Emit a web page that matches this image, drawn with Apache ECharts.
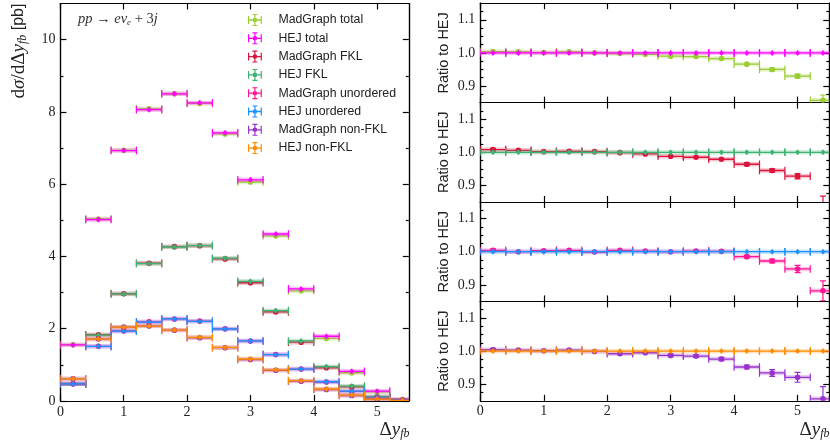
<!DOCTYPE html>
<html><head><meta charset="utf-8">
<script src="https://cdn.jsdelivr.net/npm/echarts@6/dist/echarts.min.js"></script>
<style>html,body{margin:0;padding:0;background:#fff}#c{width:830px;height:448px}</style>
</head><body><div id="c"></div>
<script>
// ---- data ----
const binEdges = [0, 0.4, 0.8, 1.2, 1.6, 2.0, 2.4, 2.8, 3.2, 3.6, 4.0, 4.4, 4.8, 5.2, 5.6];
const xTicks = [0, 1, 2, 3, 4, 5];
const yTicksMain = [0, 2, 4, 6, 8, 10];
const yMinorMain = [1, 3, 5, 7, 9];
const yTicksRatio = [0.9, 1.0, 1.1];
const yMinorRatio = [0.875, 0.925, 0.95, 0.975, 1.025, 1.05, 1.075, 1.125];

const seriesNames = ['MadGraph total', 'HEJ total', 'MadGraph FKL', 'HEJ FKL',
  'MadGraph unordered', 'HEJ unordered', 'MadGraph non-FKL', 'HEJ non-FKL'];
const seriesColors = ['#9acd32', '#ff00ff', '#dc143c', '#3cb371', '#ff1493', '#1e90ff', '#9932cc', '#ff8c00'];

const mgTotal   = [1.556, 5.035, 6.937, 8.084, 8.50, 8.234, 7.390, 6.059, 4.569, 3.047, 1.729, 0.779, 0.251, 0.034];
const hejTotal  = [1.55, 5.02, 6.93, 8.06, 8.50, 8.25, 7.42, 6.12, 4.62, 3.10, 1.79, 0.82, 0.27, 0.04];
const mgFkl     = [0.474, 1.831, 2.966, 3.811, 4.269, 4.296, 3.930, 3.270, 2.463, 1.625, 0.916, 0.387, 0.111, 0.017];
const hejFkl    = [0.47, 1.82, 2.96, 3.80, 4.26, 4.30, 3.95, 3.31, 2.50, 1.66, 0.95, 0.41, 0.12, 0.02];
const mgUnord   = [0.472, 1.51, 1.936, 2.189, 2.268, 2.209, 1.994, 1.66, 1.283, 0.881, 0.522, 0.262, 0.076, 0.013];
const hejUnord  = [0.47, 1.51, 1.93, 2.18, 2.27, 2.20, 1.99, 1.66, 1.28, 0.88, 0.53, 0.27, 0.08, 0.015];
const mgNonFkl  = [0.612, 1.715, 2.042, 2.076, 1.958, 1.746, 1.473, 1.145, 0.847, 0.547, 0.314, 0.149, 0.046, 0.009];
const hejNonFkl = [0.61, 1.71, 2.04, 2.07, 1.96, 1.76, 1.48, 1.16, 0.86, 0.56, 0.33, 0.16, 0.05, 0.01];

const ratioMgTotal  = [1.004, 1.003, 1.001, 1.003, 1.000, 0.998, 0.996, 0.990, 0.989, 0.983, 0.966, 0.950, 0.930, 0.857];
const ratioErrTotal = [0.003, 0.002, 0.002, 0.002, 0.002, 0.002, 0.002, 0.002, 0.003, 0.003, 0.003, 0.004, 0.006, 0.016];
const ratioMgFkl    = [1.008, 1.006, 1.002, 1.003, 1.002, 0.999, 0.995, 0.988, 0.985, 0.979, 0.964, 0.945, 0.928, 0.830];
const ratioErrFkl   = [0.004, 0.003, 0.002, 0.002, 0.002, 0.002, 0.002, 0.003, 0.003, 0.003, 0.004, 0.005, 0.008, 0.038];
const ratioMgUnord  = [1.004, 1.000, 1.003, 1.004, 0.999, 1.004, 1.002, 1.000, 1.002, 1.001, 0.985, 0.972, 0.948, 0.882];
const ratioErrUnord = [0.004, 0.003, 0.003, 0.003, 0.003, 0.003, 0.003, 0.003, 0.003, 0.003, 0.004, 0.006, 0.011, 0.030];
const ratioMgNonFkl = [1.004, 1.003, 1.001, 1.003, 0.999, 0.992, 0.995, 0.987, 0.985, 0.976, 0.952, 0.934, 0.921, 0.856];
const ratioErrNonFkl= [0.004, 0.003, 0.003, 0.003, 0.003, 0.003, 0.003, 0.004, 0.004, 0.005, 0.006, 0.010, 0.015, 0.037];
const ratioHej      = [1, 1, 1, 1, 1, 1, 1, 1, 1, 1, 1, 1, 1, 1];

// ---- helpers ----
function toData(vals, errs) {
  return vals.map((v, i) => [binEdges[i], binEdges[i + 1], v, errs ? errs[i] : 0]);
}
function makeRender(isMG) {
  return function (params, api) {
    const lo = api.value(0), hi = api.value(1), y = api.value(2), e = api.value(3);
    const c = api.visual('color');
    const p1 = api.coord([lo, y]), p2 = api.coord([hi, y]);
    const xc = (p1[0] + p2[0]) / 2, yc = p1[1];
    const yu = api.coord([lo, y + e])[1], yd = api.coord([lo, y - e])[1];
    const cs = params.coordSys;
    const ch = [];
    ch.push({ type: 'rect', shape: { x: p1[0], y: yc - 2.2, width: p2[0] - p1[0], height: 4.4 }, style: { fill: c, opacity: 0.25 } });
    ch.push({ type: 'line', shape: { x1: p1[0], y1: yc, x2: p2[0], y2: yc }, style: { stroke: c, lineWidth: 1.3 } });
    ch.push({ type: 'line', shape: { x1: p1[0], y1: yc - 3.8, x2: p1[0], y2: yc + 3.8 }, style: { stroke: c, lineWidth: 1.2 } });
    ch.push({ type: 'line', shape: { x1: p2[0], y1: yc - 3.8, x2: p2[0], y2: yc + 3.8 }, style: { stroke: c, lineWidth: 1.2 } });
    if (yd - yu > 2) {
      ch.push({ type: 'line', shape: { x1: xc, y1: yu, x2: xc, y2: yd }, style: { stroke: c, lineWidth: 1.2 } });
      ch.push({ type: 'line', shape: { x1: xc - 3, y1: yu, x2: xc + 3, y2: yu }, style: { stroke: c, lineWidth: 1.2 } });
      ch.push({ type: 'line', shape: { x1: xc - 3, y1: yd, x2: xc + 3, y2: yd }, style: { stroke: c, lineWidth: 1.2 } });
    }
    if (isMG) {
      ch.push({ type: 'circle', shape: { cx: xc, cy: yc, r: 2.8 }, style: { fill: c } });
    } else {
      ch.push({ type: 'polygon', shape: { points: [[xc, yc - 3], [xc + 2.4, yc], [xc, yc + 3], [xc - 2.4, yc]] }, style: { fill: c } });
    }
    return { type: 'group', children: ch,
      clipPath: { type: 'rect', shape: { x: cs.x, y: cs.y, width: cs.width, height: cs.height } } };
  };
}
function ser(idx, vals, errs, xi, yi) {
  return {
    type: 'custom', name: seriesNames[idx], xAxisIndex: xi, yAxisIndex: yi,
    itemStyle: { color: seriesColors[idx] },
    renderItem: makeRender(idx % 2 === 0),
    encode: { x: [0, 1], y: 2 },
    data: toData(vals, errs), silent: true, animation: false
  };
}

const AX = { color: '#000', width: 1.2 };
const serif = 'Liberation Serif';
function xAxesFor(gi, showLabels) {
  const base = { type: 'value', gridIndex: gi, min: 0, max: 5.5, splitLine: { show: false } };
  return [
    Object.assign({}, base, { position: 'bottom',
      axisLine: { show: true, onZero: false, lineStyle: AX },
      axisTick: { show: true, inside: true, length: 6, customValues: xTicks, lineStyle: AX },
      axisLabel: { show: showLabels, customValues: xTicks, margin: 4, fontFamily: serif, fontSize: 14, color: '#222' } }),
    Object.assign({}, base, { position: 'top',
      axisLine: { show: true, onZero: false, lineStyle: AX },
      axisTick: { show: true, inside: true, length: 6, customValues: xTicks, lineStyle: AX },
      axisLabel: { show: false } })
  ];
}
function yAxesFor(gi, min, max, major, minor) {
  const base = { type: 'value', gridIndex: gi, min: min, max: max, splitLine: { show: false } };
  const mk = (pos, vals, len, labels) => Object.assign({}, base, { position: pos,
    axisLine: { show: true, onZero: false, lineStyle: AX },
    axisTick: { show: true, inside: true, length: len, customValues: vals, lineStyle: AX },
    axisLabel: labels ? { show: true, customValues: vals, margin: 5, fontFamily: serif, fontSize: 14, color: '#222',
      formatter: v => (Math.abs(v - Math.round(v)) < 1e-9 && max > 2) ? String(Math.round(v)) : v.toFixed(1) } : { show: false } });
  return [mk('left', major, 6, true), mk('left', minor, 3, false), mk('right', major, 6, false), mk('right', minor, 3, false)];
}

// ---- layout ----
const mainGrid = { left: 60.4, top: 3.5, width: 348.4, height: 397.4 };
const rTop = [3.2, 102.6, 202.0, 301.4], rH = 99.4;
const grids = [mainGrid].concat(rTop.map(t => ({ left: 480.3, top: t, width: 349, height: rH })));

let xAxis = [], yAxis = [];
xAxis = xAxis.concat(xAxesFor(0, true));
yAxis = yAxis.concat(yAxesFor(0, 0, 11, yTicksMain, yMinorMain));
for (let p = 0; p < 4; p++) {
  xAxis = xAxis.concat(xAxesFor(p + 1, p === 3));
  yAxis = yAxis.concat(yAxesFor(p + 1, 0.85, 1.15, yTicksRatio, yMinorRatio));
}
// axis indices: grid g -> x bottom = 2g, y left major = 4g
const series = [
  ser(0, mgTotal, null, 0, 0), ser(1, hejTotal, null, 0, 0),
  ser(2, mgFkl, null, 0, 0), ser(3, hejFkl, null, 0, 0),
  ser(4, mgUnord, null, 0, 0), ser(5, hejUnord, null, 0, 0),
  ser(6, mgNonFkl, null, 0, 0), ser(7, hejNonFkl, null, 0, 0),
  ser(0, ratioMgTotal, ratioErrTotal, 2, 4), ser(1, ratioHej, null, 2, 4),
  ser(2, ratioMgFkl, ratioErrFkl, 4, 8), ser(3, ratioHej, null, 4, 8),
  ser(4, ratioMgUnord, ratioErrUnord, 6, 12), ser(5, ratioHej, null, 6, 12),
  ser(6, ratioMgNonFkl, ratioErrNonFkl, 8, 16), ser(7, ratioHej, null, 8, 16)
];

const iconPath = 'path://M0,5.8H15V7.2H0Z M0,2.2H1.3V10.8H0Z M13.7,2.2H15V10.8H13.7Z M6.85,0H8.15V13H6.85Z M4.8,0H10.2V1.2H4.8Z M4.8,11.8H10.2V13H4.8Z M5,6.5A2.5,2.5,0,1,1,10,6.5A2.5,2.5,0,1,1,5,6.5Z';

const sub = { fontFamily: serif, fontStyle: 'italic', fontSize: 12, lineHeight: 12, verticalAlign: 'bottom' };
const graphics = [
  { type: 'text', x: 19, y: 51, rotation: Math.PI / 2,
    style: { text: '{m|d}{i|σ}{m|/d}{m|Δ}{i|y}{s|fb}{t| [pb]}', align: 'center', verticalAlign: 'middle',
      rich: { m: { fontFamily: serif, fontSize: 19, lineHeight: 19, fill: '#222' },
              i: { fontFamily: serif, fontStyle: 'italic', fontSize: 19, lineHeight: 19, fill: '#222' },
              s: Object.assign({ fill: '#222' }, sub),
              t: { fontFamily: 'Liberation Sans', fontSize: 16, lineHeight: 19, fill: '#222' } } } },
  { type: 'text', x: 78, y: 19.5,
    style: { text: '{i|pp} → {i|eν}{s|e} + 3{i|j}', align: 'left', verticalAlign: 'middle',
      rich: { i: { fontFamily: serif, fontStyle: 'italic', fontSize: 14.5, lineHeight: 14, fill: '#333' },
              s: { fontFamily: serif, fontStyle: 'italic', fontSize: 9, lineHeight: 10, verticalAlign: 'bottom', fill: '#333' } },
      font: '14.5px Liberation Serif', fill: '#333' } }
];
[409.5, 829.5].forEach(x => graphics.push({ type: 'text', x: x, y: 430,
  style: { text: '{m|Δ}{i|y}{s|fb}', align: 'right', verticalAlign: 'middle',
    rich: { m: { fontFamily: serif, fontSize: 19, lineHeight: 19, fill: '#222' },
            i: { fontFamily: serif, fontStyle: 'italic', fontSize: 19, lineHeight: 19, fill: '#222' },
            s: Object.assign({ fill: '#222' }, sub) } } }));
rTop.forEach(t => graphics.push({ type: 'text', x: 444, y: t + rH / 2, rotation: Math.PI / 2,
  style: { text: 'Ratio to HEJ', align: 'center', verticalAlign: 'middle', font: '14.5px Liberation Sans', fill: '#222' } }));

const chart = echarts.init(document.getElementById('c'), null, { renderer: 'canvas' });
chart.setOption({
  animation: false,
  backgroundColor: '#fff',
  grid: grids,
  xAxis: xAxis,
  yAxis: yAxis,
  legend: {
    orient: 'vertical', left: 248, top: 14, padding: 0, itemWidth: 15, itemHeight: 12, itemGap: 6.3,
    selectedMode: false, icon: iconPath,
    data: seriesNames,
    textStyle: { fontFamily: 'Liberation Sans', fontSize: 12.3, lineHeight: 12, color: '#222', padding: [0, 0, 0, 11] }
  },
  graphic: graphics,
  series: series
});
</script>
</body></html>
